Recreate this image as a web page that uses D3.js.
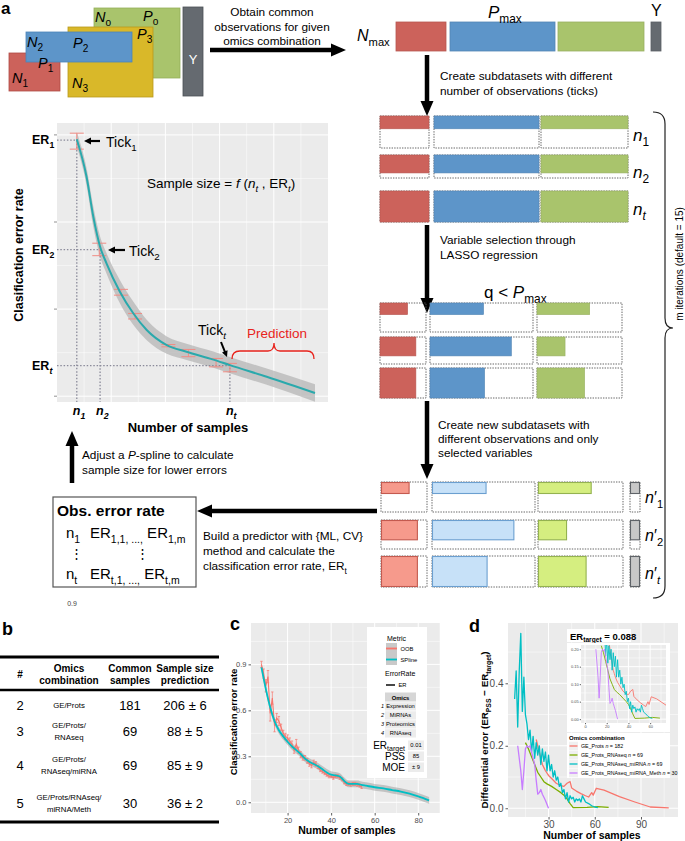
<!DOCTYPE html>
<html><head><meta charset="utf-8">
<script src="https://cdn.jsdelivr.net/npm/d3@7"></script>
<style>
body{margin:0;background:#fff}
svg{display:block}
text{font-family:"Liberation Sans",Arial,Helvetica,sans-serif}
</style>
</head><body>
<svg id="fig" width="685" height="841"></svg>
<script>
// ================= DATA =================
// Panel a – schematic learning curve
const schemX    = [7.3,10.9,13.4,15.9,18.3,23.2,28.2,33.1,40.5,47.8,57.7,63.8,77.4,95.2];
const schemY    = [0.885,0.756,0.618,0.515,0.457,0.36,0.285,0.228,0.176,0.153,0.126,0.107,0.067,0.011];
const schemBand = [0.025,0.03,0.035,0.035,0.035,0.04,0.04,0.035,0.03,0.028,0.028,0.028,0.028,0.03];
const schemErrX  = [7.3,15.6,23.6,28.8,41.1,48.5,58.7,63.8];
const schemErrLo = [0.851,0.484,0.348,0.266,0.170,0.136,0.101,0.084];
const schemErrHi = [0.906,0.527,0.368,0.285,0.178,0.161,0.130,0.113];
const schemTickN  = [7.3,15.9,63.8];
const schemTickER = [0.882,0.505,0.105];
const schemTickSub = ["1","2","t"];

// Panel a – subdataset fill fractions
const subRowHeightFrac = [0.4,0.7,1.0];
const selWidthFrac = [[0.6,0.52,0.62],[0.78,0.79,0.33],[0.78,0.53,0.56]];

// Panel b – table
const tableNum    = ["2","3","4","5"];
const tableOmics  = [["GE/Prots"],["GE/Prots/","RNAseq"],["GE/Prots/","RNAseq/miRNA"],["GE/Prots/RNAseq/","miRNA/Meth"]];
const tableCommon = ["181","69","69","30"];
const tablePred   = ["206 ± 6","88 ± 5","85 ± 9","36 ± 2"];

// Panel c – learning curve
const cSplineX = [8,10,12,14,16,18,20,22,24,26,28,30,32,34,36,38,40,42,44,46,48,50,52,54,56,60,64,68,72,76,80,85];
const cSplineY = [0.88,0.74,0.62,0.53,0.47,0.43,0.395,0.365,0.34,0.315,0.285,0.265,0.25,0.235,0.215,0.195,0.18,0.175,0.168,0.14,0.12,0.12,0.12,0.113,0.108,0.098,0.09,0.08,0.07,0.056,0.038,0.012];
const cOobX = [8,9,10,11,12,13,14,15,16,17,18,19,20,21,22,23,24,25,26,27,28,29,30,31,32,33,34,35,36,37,38,39,40,41,42,43,44,45,46,47,48,49,50,51,52,53,54];
const cOobY = [0.90,0.84,0.76,0.82,0.58,0.68,0.50,0.55,0.53,0.49,0.45,0.43,0.42,0.40,0.38,0.34,0.38,0.34,0.31,0.29,0.29,0.27,0.25,0.24,0.26,0.25,0.23,0.21,0.20,0.19,0.18,0.17,0.17,0.16,0.17,0.17,0.16,0.15,0.13,0.12,0.12,0.115,0.12,0.12,0.115,0.11,0.10];
const cOobErr = [0.02,0.03,0.04,0.04,0.05,0.04,0.04,0.03,0.03,0.02,0.02,0.02,0.02,0.02,0.02,0.02,0.03,0.02,0.02,0.015,0.015,0.015,0.015,0.015,0.015,0.015,0.01,0.01,0.01,0.01,0.01,0.01,0.01,0.01,0.01,0.01,0.01,0.01,0.01,0.01,0.01,0.01,0.01,0.01,0.01,0.01,0.01];
const cXTicks = [20,40,60,80];
const cYTicks = [0,0.3,0.6,0.9];
const cMetricNames = ["OOB","SPline"];
const cOmicsNames  = ["Expression","MiRNAs","Proteomics","RNAseq"];
const cStatNames   = ["ER","PSS","MOE"];
const cStatValues  = ["0.01","85","± 9"];

// Panel d – differential error
const dRedX = [22,23,24,25,26,27,28,30,32,35,38,40,42,44,45,48,51,54,56,58,59,61,66,76,86,96,108];
const dRedY = [0.22,0.2,0.18,0.16,0.14,0.13,0.12,0.105,0.095,0.08,0.072,0.07,0.08,0.085,0.065,0.055,0.047,0.04,0.036,0.05,0.042,0.064,0.058,0.037,0.02,0.004,0.001];
const dGreenX = [15,17,19,21,23,25,27,29,32,35,38,40,42,44,46,55,62,69];
const dGreenY = [0.21,0.19,0.165,0.14,0.115,0.1,0.085,0.078,0.07,0.06,0.05,0.042,0.03,0.015,0.002,0.003,0.005,0.003];
const dCyanX = [8,9,10,11,12,13,14,15,16,17,18,19,20,21,22,23,24,25,26,27,28,29,30,31,32,33,34,35,36,37,38,39,40,41,42,43,44,45,46,47,48,49,50,51,52,53,54,56,58,60,62];
const dCyanY = [0.35,0.44,0.26,0.44,0.56,0.31,0.42,0.30,0.27,0.22,0.25,0.18,0.23,0.16,0.21,0.17,0.20,0.14,0.19,0.15,0.18,0.12,0.17,0.12,0.14,0.10,0.12,0.09,0.10,0.07,0.08,0.05,0.06,0.03,0.05,0.02,0.04,0.03,0.035,0.02,0.03,0.025,0.03,0.02,0.04,0.03,0.02,0.015,0.008,0.004,0.002];
const dPurpleX = [10,12,13,14,15,16,17,18,19,20,21,22,23,24,25,26,27,28,30];
const dPurpleY = [0.2,0.12,0.06,0.12,0.19,0.2,0.195,0.2,0.18,0.16,0.14,0.09,0.045,0.05,0.06,0.045,0.035,0.025,0.0];
const dSeriesNames = ["GE_Prots","GE_Prots_RNAseq","GE_Prots_RNAseq_miRNA","GE_Prots_RNAseq_miRNA_Meth"];
const dSeriesN = [182,69,69,30];
const dXTicks = [30,60,90];
const dYTicks = [0,0.2,0.4];
const dInsetXTicks = [0,20,40,60];
const dInsetYTicks = [0,0.05,0.1,0.15,0.2];
const dTarget = "0.088";

// ================= HELPERS =================
const svg = d3.select("#fig");
const FONT = "'Liberation Sans', Arial, Helvetica, sans-serif";

function rich(sel, x, y, segs, size, attrs, subShift) {
  const t = sel.append("text").attr("x", x).attr("y", y).style("font-size", size + "px");
  if (attrs) for (const k in attrs) { if (k === "style") { for (const s in attrs.style) t.style(s, attrs.style[s]); } else t.attr(k, attrs[k]); }
  let shift = 0;
  const sf = subShift === undefined ? 0.32 : subShift;
  segs.forEach(s => {
    const str = typeof s === "string" ? s : s[0];
    const st = typeof s === "string" ? "" : (s[1] || "");
    const ts = t.append("tspan").text(str);
    let target = 0;
    if (st.includes("_")) { target = size * sf; ts.style("font-size", (size * 0.7) + "px"); }
    if (target !== shift) { ts.attr("dy", target - shift); shift = target; }
    if (st.includes("i")) ts.style("font-style", "italic");
    if (st.includes("b")) ts.style("font-weight", "bold");
  });
  return t;
}
function arrow(g, x1, y1, x2, y2, w, hl, hw, color) {
  color = color || "#000";
  const dx = x2 - x1, dy = y2 - y1, L = Math.hypot(dx, dy), ux = dx / L, uy = dy / L;
  const bx = x2 - ux * hl, by = y2 - uy * hl;
  g.append("line").attr("x1", x1).attr("y1", y1).attr("x2", bx + ux).attr("y2", by + uy)
    .attr("stroke", color).attr("stroke-width", w);
  g.append("path").attr("d", `M${x2},${y2}L${bx - uy * hw / 2},${by + ux * hw / 2}L${bx + uy * hw / 2},${by - ux * hw / 2}Z`).attr("fill", color);
}
function ggPanel(g, xs, ys, xMaj, xMin, yMaj, yMin, bg) {
  const [x0, x1] = xs.range(), [y0, y1] = ys.range();
  g.append("rect").attr("x", x0).attr("y", y1).attr("width", x1 - x0).attr("height", y0 - y1).attr("fill", bg || "#ebebeb");
  const lines = (vals, w, vert) => vals.forEach(v => {
    if (vert) g.append("line").attr("x1", xs(v)).attr("x2", xs(v)).attr("y1", y0).attr("y2", y1).attr("stroke", "#fff").attr("stroke-width", w);
    else g.append("line").attr("y1", ys(v)).attr("y2", ys(v)).attr("x1", x0).attr("x2", x1).attr("stroke", "#fff").attr("stroke-width", w);
  });
  lines(xMin, 0.5, true); lines(yMin, 0.5, false);
  lines(xMaj, 1, true); lines(yMaj, 1, false);
}
function styleAxis(a, size) {
  a.select(".domain").remove();
  a.attr("font-family", FONT);
  a.selectAll("line").attr("stroke", "#333").attr("stroke-width", 0.8);
  a.selectAll("text").attr("fill", "#4d4d4d").style("font-size", size + "px");
}
function clip(id, x, y, w, h) {
  svg.append("clipPath").attr("id", id).append("rect").attr("x", x).attr("y", y).attr("width", w).attr("height", h);
  return `url(#${id})`;
}

// ================= PANEL A =================
const gA = svg.append("g");
gA.append("text").attr("x", 1).attr("y", 14).style("font-size", "17px").style("font-weight", "bold").text("a");

// overlapping omics blocks
const omicsBlocks = [
  {fill: "#a9c46c", stroke: "#94b05a", x: 94, y: 8, w: 86, h: 70},
  {fill: "#d9b829", stroke: "#b89a1c", x: 68, y: 27, w: 85, h: 70},
  {fill: "#cc625b", stroke: "#b04c45", x: 9, y: 53, w: 51, h: 38},
  {fill: "#5d95c9", stroke: "#4d84b8", x: 26, y: 32, w: 106, h: 30}
];
omicsBlocks.forEach(b => gA.append("rect").attr("x", b.x).attr("y", b.y).attr("width", b.w).attr("height", b.h)
  .attr("fill", b.fill).attr("stroke", b.stroke).attr("stroke-width", 0.8));
const blockLabels = [["N","o",95,22],["P","o",143,21],["N","2",27,47],["P","2",73,48],["P","3",137,39],["P","1",38,68],["N","1",12,83],["N","3",72,88]];
blockLabels.forEach(l => rich(gA, l[2], l[3], [[l[0], "i"], [l[1], "_"]], 14.5, null, 0.28));
gA.append("rect").attr("x", 183).attr("y", 7).attr("width", 20).attr("height", 89).attr("fill", "#656a70").attr("stroke", "#4c5055").attr("stroke-width", 0.8);
gA.append("text").attr("x", 193).attr("y", 64).attr("text-anchor", "middle").attr("fill", "#fff").style("font-size", "13px").text("Y");

arrow(gA, 210, 50, 346, 50, 4.5, 15, 13);
["Obtain common", "observations for given", "omics combination"].forEach((s, i) =>
  gA.append("text").attr("x", 272).attr("y", 16 + i * 14.5).attr("text-anchor", "middle").style("font-size", "11.8px").text(s));

// combined dataset
const topBars = [
  {fill: "#cc625b", x: 396, w: 50}, {fill: "#5d95c9", x: 450, w: 105},
  {fill: "#a9c46c", x: 558, w: 86}, {fill: "#656a70", x: 651, w: 10}
];
topBars.forEach(b => gA.append("rect").attr("x", b.x).attr("y", 22).attr("width", b.w).attr("height", 29).attr("fill", b.fill)
  .attr("stroke", d3.color(b.fill).darker(0.3)).attr("stroke-width", 0.8));
rich(gA, 488, 18, [["P", "i"], ["max", "_"]], 17);
gA.append("text").attr("x", 651).attr("y", 16).style("font-size", "16px").text("Y");
rich(gA, 357, 41, [["N", "i"], ["max", "_"]], 16);

arrow(gA, 427, 55, 427, 116, 4.5, 15, 13);
["Create subdatasets with different", "number of observations (ticks)"].forEach((s, i) =>
  gA.append("text").attr("x", 440).attr("y", 80 + i * 15).style("font-size", "11.8px").text(s));

// subdataset rows helper
const colFill = ["#cc625b", "#5d95c9", "#a9c46c"];
const colFillLight = ["#f69a8c", "#c7e1f8", "#d5ee80"];
const colStrokeLight = ["#c45a4f", "#6b9fd0", "#94b250"];
function dottedBox(g, x, y, w, h) {
  g.append("rect").attr("x", x).attr("y", y).attr("width", w).attr("height", h).attr("fill", "none")
    .attr("stroke", "#555").attr("stroke-width", 0.9).attr("stroke-dasharray", "1.4,1.2");
}
const colsTop = [{x: 380, w: 49}, {x: 434, w: 105}, {x: 541, w: 87}];
const rowsTop = [{y: 116, h: 32}, {y: 155, h: 23}, {y: 191, h: 31}];
const rowsTopFill = [0.4, 0.78, 1.0];
rowsTop.forEach((r, ri) => colsTop.forEach((c, ci) => {
  dottedBox(gA, c.x, r.y, c.w, r.h);
  gA.append("rect").attr("x", c.x).attr("y", r.y).attr("width", c.w).attr("height", r.h * rowsTopFill[ri])
    .attr("fill", colFill[ci]).attr("stroke", d3.color(colFill[ci]).darker(0.3)).attr("stroke-width", 0.6);
}));
["1", "2", "t"].forEach((s, i) => rich(gA, 633, [141, 178, 215][i], [["n", "i"], [s, i === 2 ? "i_" : "_"]], 17));

arrow(gA, 427, 225, 427, 313, 4.5, 15, 13);
["Variable selection through", "LASSO regression"].forEach((s, i) =>
  gA.append("text").attr("x", 440).attr("y", 244 + i * 15).style("font-size", "11.8px").text(s));
rich(gA, 484, 298, [["q < ", ""], ["P", "i"], ["max", "_"]], 17);

const colsSel = [{x: 380, w: 46}, {x: 430, w: 103}, {x: 537, w: 85}];
const rowsSel = [{y: 303, h: 29}, {y: 337, h: 27}, {y: 368, h: 30}];
rowsSel.forEach((r, ri) => colsSel.forEach((c, ci) => {
  dottedBox(gA, c.x, r.y, c.w, r.h);
  gA.append("rect").attr("x", c.x).attr("y", r.y).attr("width", c.w * selWidthFrac[ri][ci]).attr("height", r.h * subRowHeightFrac[ri])
    .attr("fill", colFill[ci]).attr("stroke", d3.color(colFill[ci]).darker(0.3)).attr("stroke-width", 0.6);
}));

arrow(gA, 427, 401, 427, 479, 4.5, 15, 13);
["Create new subdatasets with", "different observations and only", "selected variables"].forEach((s, i) =>
  gA.append("text").attr("x", 438).attr("y", 429 + i * 14).style("font-size", "11.8px").text(s));

const colsFin = [{x: 381, w: 46}, {x: 432, w: 103}, {x: 538, w: 85}];
const rowsFin = [{y: 482, h: 30}, {y: 520, h: 29}, {y: 556, h: 31}];
rowsFin.forEach((r, ri) => {
  colsFin.forEach((c, ci) => {
    dottedBox(gA, c.x, r.y, c.w, r.h);
    gA.append("rect").attr("x", c.x + 0.5).attr("y", r.y + 0.5).attr("width", c.w * selWidthFrac[ri][ci]).attr("height", r.h * subRowHeightFrac[ri] - 1)
      .attr("fill", colFillLight[ci]).attr("stroke", colStrokeLight[ci]).attr("stroke-width", 1.1);
  });
  dottedBox(gA, 630, r.y, 10, r.h);
  gA.append("rect").attr("x", 630.5).attr("y", r.y + 0.5).attr("width", 9).attr("height", r.h * subRowHeightFrac[ri] - 1)
    .attr("fill", "#c8c8c8").attr("stroke", "#5f6368").attr("stroke-width", 1.1);
  rich(gA, 645, [503, 541, 579][ri], [["n", "i"], ["′", ""], [["1", "2", "t"][ri], ri === 2 ? "i_" : "_"]], 16);
});

// right brace
gA.append("path").attr("d", "M653,112 Q665,112 665,124 L665,318 Q665,328 673,328 Q665,328 665,338 L665,586 Q665,598 653,598")
  .attr("fill", "none").attr("stroke", "#222").attr("stroke-width", 1.2);
gA.append("text").attr("transform", "translate(683,264) rotate(-90)").attr("text-anchor", "middle").style("font-size", "10px")
  .text("m iterations (default = 15)");

// big arrows / texts bottom-left of panel a
arrow(gA, 377, 511, 197, 511, 4.5, 15, 13);
["Build a predictor with {ML, CV}", "method and calculate the"].forEach((s, i) =>
  gA.append("text").attr("x", 203).attr("y", 540 + i * 15).style("font-size", "11.8px").text(s));
rich(gA, 203, 570, [["classification error rate, ER", ""], ["t", "_"]], 11.8);
arrow(gA, 72, 483, 72, 431, 4.5, 15, 13);
rich(gA, 82, 459, [["Adjust a ", ""], ["P", "i"], ["-spline to calculate", ""]], 11.8);
gA.append("text").attr("x", 82).attr("y", 474).style("font-size", "11.8px").text("sample size for lower errors");

// observed error rate box
gA.append("rect").attr("x", 53).attr("y", 497).attr("width", 143).attr("height", 90).attr("fill", "#fff").attr("stroke", "#555").attr("stroke-width", 1.2);
gA.append("text").attr("x", 57).attr("y", 516).style("font-size", "15.5px").style("font-weight", "bold").text("Obs.  error rate");
rich(gA, 66, 538, [["n", ""], ["1", "_"]], 15);
rich(gA, 90, 538, [["ER", ""], ["1,1, ...,", "_"], [" ER", ""], ["1,m", "_"]], 15);
gA.append("text").attr("x", 70).attr("y", 558).style("font-size", "13px").text("⋮");
gA.append("text").attr("x", 136).attr("y", 558).style("font-size", "13px").text("⋮");
rich(gA, 66, 579, [["n", ""], ["t", "_"]], 15);
rich(gA, 90, 579, [["ER", ""], ["t,1, ...,", "_"], [" ER", ""], ["t,m", "_"]], 15);
gA.append("text").attr("x", 72).attr("y", 606).attr("text-anchor", "middle").attr("fill", "#444").style("font-size", "7px").text("0.9");

// schematic learning-curve chart
const ax = d3.scaleLinear().domain([0, 100]).range([57, 328]);
const ay = d3.scaleLinear().domain([-0.02, 0.941]).range([402, 123]);
ggPanel(gA, ax, ay, [20, 40, 60, 80], [10, 30, 50, 70, 90], [0, 0.3, 0.6, 0.9], [0.15, 0.45, 0.75]);
[0, 0.3, 0.6, 0.9].forEach(v => gA.append("line").attr("x1", 54).attr("x2", 57).attr("y1", ay(v)).attr("y2", ay(v)).attr("stroke", "#777").attr("stroke-width", 0.8));
const schem = schemX.map((x, i) => ({x, y: schemY[i], b: schemBand[i]}));
gA.append("path").datum(schem).attr("fill", "#b5b5b5").attr("opacity", 0.75)
  .attr("d", d3.area().x(d => ax(d.x)).y0(d => ay(d.y - d.b)).y1(d => ay(d.y + d.b)).curve(d3.curveMonotoneX));
// dotted guide lines
schemTickN.forEach((n, i) => {
  const er = schemTickER[i];
  gA.append("path").attr("d", `M${ax.range()[0]},${ay(er)}H${ax(n)}V${ay.range()[0]}`).attr("fill", "none")
    .attr("stroke", "#8a8a9a").attr("stroke-width", 1.3).attr("stroke-dasharray", "1.5,1.8");
});
// error bars
schemErrX.forEach((x, i) => {
  const g = gA.append("g").attr("stroke", "#f08c84").attr("stroke-width", 1);
  g.append("line").attr("x1", ax(x)).attr("x2", ax(x)).attr("y1", ay(schemErrLo[i])).attr("y2", ay(schemErrHi[i]));
  [schemErrLo[i], schemErrHi[i]].forEach(v => g.append("line").attr("x1", ax(x) - 7).attr("x2", ax(x) + 7).attr("y1", ay(v)).attr("y2", ay(v)));
});
gA.append("path").datum(schem).attr("fill", "none").attr("stroke", "#2aa9ac").attr("stroke-width", 2)
  .attr("d", d3.line().x(d => ax(d.x)).y(d => ay(d.y)).curve(d3.curveMonotoneX));
schemTickER.forEach((er, i) => rich(gA, 32, ay(er) + 4, [["ER", "b"], [schemTickSub[i], i === 2 ? "bi_" : "b_"]], 12.5));
schemTickN.forEach((n, i) => rich(gA, ax(n) - 4, 415, [["n", "bi"], [schemTickSub[i], "bi_"]], 12.5));
gA.append("text").attr("transform", "translate(23,255) rotate(-90)").attr("text-anchor", "middle")
  .style("font-size", "12.5px").style("font-weight", "bold").text("Clasification error rate");
gA.append("text").attr("x", 188).attr("y", 432).attr("text-anchor", "middle").style("font-size", "13px").style("font-weight", "bold").text("Number of samples");
// annotations
arrow(gA, 100, 141, 84, 141, 2.2, 7, 7);
rich(gA, 106, 147, [["Tick", ""], ["1", "_"]], 14);
arrow(gA, 125, 250, 108, 250, 2.2, 7, 7);
rich(gA, 129, 256, [["Tick", ""], ["2", "_"]], 14);
rich(gA, 198, 335, [["Tick", ""], ["t", "i_"]], 14);
arrow(gA, 221, 342, 227, 357, 2, 6, 6);
gA.append("text").attr("x", 247).attr("y", 338).attr("fill", "#e8231c").style("font-size", "13.5px").text("Prediction");
gA.append("path").attr("d", "M232,359 Q232,351 240,351 L268,351 Q274,351 274,343 Q274,351 280,351 L307,351 Q314,351 314,359")
  .attr("fill", "none").attr("stroke", "#e8231c").attr("stroke-width", 1.3);
rich(gA, 147, 188, [["Sample size = ", ""], ["f", "i"], [" (", ""], ["n", "i"], ["t", "i_"], [" , ER", ""], ["t", "i_"], [")", ""]], 13.5);

// ================= PANEL B =================
const gB = svg.append("g");
gB.append("text").attr("x", 2).attr("y", 635).style("font-size", "18px").style("font-weight", "bold").text("b");
gB.append("line").attr("x1", 0).attr("x2", 219).attr("y1", 657).attr("y2", 657).attr("stroke", "#000").attr("stroke-width", 2.8);
gB.append("line").attr("x1", 0).attr("x2", 219).attr("y1", 690).attr("y2", 690).attr("stroke", "#000").attr("stroke-width", 2.3);
gB.append("line").attr("x1", 0).attr("x2", 219).attr("y1", 822).attr("y2", 822).attr("stroke", "#000").attr("stroke-width", 2.8);
const colX = [20, 69, 130, 185];
const headers = [["#"], ["Omics", "combination"], ["Common", "samples"], ["Sample size", "prediction"]];
headers.forEach((h, i) => h.forEach((s, j) => gB.append("text").attr("x", colX[i]).attr("y", h.length === 1 ? 678 : 672 + j * 12)
  .attr("text-anchor", "middle").style("font-size", "10px").style("font-weight", "bold").text(s)));
const rowY = [705, 731, 765, 803];
tableNum.forEach((n, i) => {
  const y = rowY[i];
  gB.append("text").attr("x", colX[0]).attr("y", y + 5).attr("text-anchor", "middle").style("font-size", "13px").text(n);
  const lines = tableOmics[i];
  lines.forEach((s, j) => gB.append("text").attr("x", colX[1]).attr("y", y + 3 + (j - (lines.length - 1) / 2) * 12.5)
    .attr("text-anchor", "middle").style("font-size", "7.8px").text(s));
  gB.append("text").attr("x", colX[2]).attr("y", y + 5).attr("text-anchor", "middle").style("font-size", "13px").text(tableCommon[i]);
  gB.append("text").attr("x", colX[3]).attr("y", y + 5).attr("text-anchor", "middle").style("font-size", "13px").text(tablePred[i]);
});

// ================= PANEL C =================
const gC = svg.append("g");
gC.append("text").attr("x", 230).attr("y", 630).style("font-size", "18px").style("font-weight", "bold").text("c");
const cx = d3.scaleLinear().domain([3.2, 90]).range([251, 440]);
const cy = d3.scaleLinear().domain([-0.07, 1.17]).range([813, 623]);
ggPanel(gC, cx, cy, cXTicks, [10, 30, 50, 70, 90], cYTicks, [0.15, 0.45, 0.75, 1.05]);
const cClip = clip("cclip", 251, 623, 189, 190);
const cPlot = gC.append("g").attr("clip-path", cClip);
const cSpl = cSplineX.map((x, i) => ({x, y: cSplineY[i]}));
cPlot.append("path").datum(cSpl).attr("fill", "#9a9a9a").attr("opacity", 0.5)
  .attr("d", d3.area().x(d => cx(d.x)).y0(d => cy(d.y - 0.022)).y1(d => cy(d.y + 0.022)).curve(d3.curveMonotoneX));
const cOob = cOobX.map((x, i) => ({x, y: cOobY[i], e: cOobErr[i]}));
cOob.forEach(d => {
  cPlot.append("line").attr("x1", cx(d.x)).attr("x2", cx(d.x)).attr("y1", cy(d.y - d.e)).attr("y2", cy(d.y + d.e)).attr("stroke", "#F8766D").attr("stroke-width", 0.7);
  [d.y - d.e, d.y + d.e].forEach(v => cPlot.append("line").attr("x1", cx(d.x) - 1.2).attr("x2", cx(d.x) + 1.2).attr("y1", cy(v)).attr("y2", cy(v)).attr("stroke", "#F8766D").attr("stroke-width", 0.7));
});
cPlot.append("path").datum(cOob).attr("fill", "none").attr("stroke", "#F8766D").attr("stroke-width", 1.1)
  .attr("d", d3.line().x(d => cx(d.x)).y(d => cy(d.y)));
cPlot.append("path").datum(cSpl).attr("fill", "none").attr("stroke", "#00BFC4").attr("stroke-width", 1.8)
  .attr("d", d3.line().x(d => cx(d.x)).y(d => cy(d.y)).curve(d3.curveMonotoneX));
styleAxis(gC.append("g").attr("transform", "translate(251,0)").call(d3.axisLeft(cy).tickValues(cYTicks).tickFormat(d3.format(".1f")).tickSize(2.5).tickPadding(2)), 7.5);
styleAxis(gC.append("g").attr("transform", "translate(0,813)").call(d3.axisBottom(cx).tickValues(cXTicks).tickSize(2.5).tickPadding(2)), 7.5);
gC.append("text").attr("transform", "translate(237,722) rotate(-90)").attr("text-anchor", "middle").style("font-size", "9.5px").style("font-weight", "bold").text("Classification error rate");
gC.append("text").attr("x", 347).attr("y", 834).attr("text-anchor", "middle").style("font-size", "10.5px").style("font-weight", "bold").text("Number of samples");
// legend
const gCL = gC.append("g");
gCL.append("rect").attr("x", 367).attr("y", 627).attr("width", 60).attr("height", 151).attr("fill", "#fff");
gCL.append("text").attr("x", 387).attr("y", 641).style("font-size", "7px").text("Metric");
const cMetricColors = ["#F8766D", "#00BFC4"];
cMetricNames.forEach((m, i) => {
  const y = 643 + i * 11;
  gCL.append("rect").attr("x", 386).attr("y", y).attr("width", 11).attr("height", 11).attr("fill", "#c9c9c9");
  gCL.append("line").attr("x1", 386).attr("x2", 397).attr("y1", y + 5.5).attr("y2", y + 5.5).attr("stroke", cMetricColors[i]).attr("stroke-width", 1.8);
  gCL.append("text").attr("x", 400.5).attr("y", y + 7.5).style("font-size", "5.8px").text(m);
});
gCL.append("text").attr("x", 385).attr("y", 676).style("font-size", "7px").text("ErrorRate");
gCL.append("line").attr("x1", 386).attr("x2", 395).attr("y1", 685).attr("y2", 685).attr("stroke", "#333").attr("stroke-width", 1.8);
gCL.append("text").attr("x", 398.5).attr("y", 687).style("font-size", "5.8px").text("ER");
gCL.append("rect").attr("x", 385).attr("y", 692.5).attr("width", 31).attr("height", 9).attr("fill", "#d6d6d6");
gCL.append("text").attr("x", 400.5).attr("y", 699.5).attr("text-anchor", "middle").style("font-size", "5.8px").style("font-weight", "bold").text("Omics");
cOmicsNames.forEach((o, i) => {
  const y = 702 + i * 9;
  gCL.append("rect").attr("x", 385).attr("y", y + 0.3).attr("width", 31).attr("height", 8.2).attr("fill", "#ececec");
  gCL.append("text").attr("x", 382.5).attr("y", y + 6.3).attr("text-anchor", "middle").style("font-size", "5.5px").style("font-style", "italic").text(String(i + 1));
  gCL.append("text").attr("x", 400.5).attr("y", y + 6.3).attr("text-anchor", "middle").style("font-size", "5.8px").text(o);
});
cStatNames.forEach((s, i) => {
  const y = 749 + i * 11;
  if (i === 0) rich(gCL, 405, y, [["ER", ""], ["target", "_"]], 10, {"text-anchor": "end"}, 0.22);
  else gCL.append("text").attr("x", 405).attr("y", y).attr("text-anchor", "end").style("font-size", "10px").text(s);
  gCL.append("rect").attr("x", 408).attr("y", y - 8.5).attr("width", 16).attr("height", 9.5).attr("fill", "#ececec");
  gCL.append("text").attr("x", 416).attr("y", y - 1.8).attr("text-anchor", "middle").style("font-size", "5.8px").text(cStatValues[i]);
});

// ================= PANEL D =================
const gD = svg.append("g");
gD.append("text").attr("x", 469).attr("y", 632).style("font-size", "18px").style("font-weight", "bold").text("d");
const dx = d3.scaleLinear().domain([3.7, 114]).range([508, 678]);
const dy = d3.scaleLinear().domain([-0.028, 0.593]).range([817, 623]);
ggPanel(gD, dx, dy, dXTicks, [15, 45, 75, 105], dYTicks, [0.1, 0.3, 0.5]);
const dSeries = [
  {x: dRedX, y: dRedY, c: "#F8766D"}, {x: dGreenX, y: dGreenY, c: "#7CAE00"},
  {x: dCyanX, y: dCyanY, c: "#00BFC4"}, {x: dPurpleX, y: dPurpleY, c: "#C77CFF"}
];
const dClip = clip("dclip", 508, 623, 170, 194);
const dPlot = gD.append("g").attr("clip-path", dClip);
dSeries.forEach(s => dPlot.append("path").datum(s.x.map((x, i) => ({x, y: s.y[i]}))).attr("fill", "none")
  .attr("stroke", s.c).attr("stroke-width", 1.3).attr("stroke-linejoin", "round")
  .attr("d", d3.line().x(d => dx(d.x)).y(d => dy(d.y))));
styleAxis(gD.append("g").attr("transform", "translate(508,0)").call(d3.axisLeft(dy).tickValues(dYTicks).tickFormat(d3.format(".1f")).tickSize(2.5).tickPadding(2)), 10);
styleAxis(gD.append("g").attr("transform", "translate(0,817)").call(d3.axisBottom(dx).tickValues(dXTicks).tickSize(2.5).tickPadding(1.5)), 10);
rich(gD, 0, 0, [["Differential error (ER", ""], ["PSS", "_"], [" − ER", ""], ["target", "_"], [")", ""]], 9.8,
  {"transform": "translate(488,730) rotate(-90)", "text-anchor": "middle", "style": {"font-weight": "bold"}});
gD.append("text").attr("x", 592).attr("y", 839).attr("text-anchor", "middle").style("font-size", "10.5px").style("font-weight", "bold").text("Number of samples");

// ER target label
gD.append("rect").attr("x", 567).attr("y", 629).attr("width", 64).attr("height", 13).attr("fill", "#fff");
rich(gD, 570, 639.5, [["ER", ""], ["target", "_"], [" = " + dTarget, ""]], 9.5, {"style": {"font-weight": "bold"}}, 0.25);

// inset
gD.append("rect").attr("x", 567).attr("y", 643).attr("width", 103).attr("height", 89).attr("fill", "#fff");
const ix = d3.scaleLinear().domain([-3.7, 74.6]).range([581, 666]);
const iy = d3.scaleLinear().domain([-0.011, 0.212]).range([723, 645]);
ggPanel(gD, ix, iy, dInsetXTicks, [10, 30, 50, 70], dInsetYTicks, [0.025, 0.075, 0.125, 0.175]);
const iClip = clip("iclip", 581, 645, 85, 78);
const iPlot = gD.append("g").attr("clip-path", iClip);
dSeries.forEach(s => iPlot.append("path").datum(s.x.map((x, i) => ({x, y: s.y[i]}))).attr("fill", "none")
  .attr("stroke", s.c).attr("stroke-width", 0.9).attr("stroke-linejoin", "round")
  .attr("d", d3.line().x(d => ix(d.x)).y(d => iy(d.y))));
styleAxis(gD.append("g").attr("transform", "translate(581,0)").call(d3.axisLeft(iy).tickValues(dInsetYTicks).tickFormat(d3.format(".2f")).tickSize(1.2).tickPadding(1)), 4);
styleAxis(gD.append("g").attr("transform", "translate(0,723)").call(d3.axisBottom(ix).tickValues(dInsetXTicks).tickSize(1.2).tickPadding(1)), 4);

// legend d
gD.append("rect").attr("x", 567).attr("y", 733).attr("width", 103).attr("height", 45).attr("fill", "#fff");
gD.append("text").attr("x", 569).attr("y", 740).style("font-size", "6px").style("font-weight", "bold").text("Omics combination");
dSeriesNames.forEach((n, i) => {
  const y = 746 + i * 9;
  gD.append("rect").attr("x", 569).attr("y", y - 4.3).attr("width", 9).attr("height", 8.6).attr("fill", "#f0f0f0");
  gD.append("line").attr("x1", 569.5).attr("x2", 577.5).attr("y1", y).attr("y2", y).attr("stroke", dSeries[i].c).attr("stroke-width", 1.3);
  rich(gD, 581, y + 2, [[n + "  ", ""], ["n", "i"], [" = " + dSeriesN[i], ""]], 5.3);
});
</script>
</body></html>
